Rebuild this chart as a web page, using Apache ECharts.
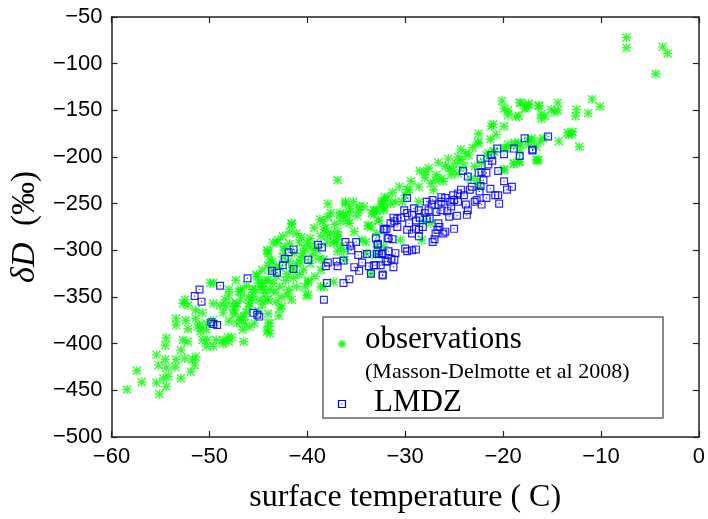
<!DOCTYPE html>
<html>
<head>
<meta charset="utf-8">
<script src="https://cdn.jsdelivr.net/npm/echarts@6/dist/echarts.min.js"></script>
<style>
  html, body { margin: 0; padding: 0; background: #fff; }
  #chart { width: 708px; height: 519px; }
</style>
</head>
<body>
<div id="chart"></div>
<script>
// axis ticks
const xTicks = { min: -60, max: 0, step: 10 };
const yTicks = { min: -500, max: -50, step: 50 };

// observations (Masson-Delmotte et al 2008): [surface temperature, dD]
const observations = [
  [-58.4,-449],[-56.9,-441],[-57.4,-429],[-55.4,-442],[-55.1,-454],[-54.7,-437],[-54.2,-435],[-54.4,-446],
  [-55.4,-412],[-55.2,-423],[-54.5,-417],[-54.4,-426],[-54.5,-402],[-54.4,-394],[-53.4,-417],[-53.5,-425],
  [-52.9,-437],[-52.5,-416],[-52.9,-407],[-52.7,-396],[-52.2,-398],[-51.7,-417],[-51.9,-430],[-51.5,-423],
  [-51.4,-414],[-51.2,-382],[-52.2,-384],[-53.4,-373],[-53.4,-380],[-52.4,-375],[-51.4,-373],[-50.9,-387],
  [-50.7,-396],[-50.2,-396],[-50.3,-403],[-49.6,-403],[-49.3,-396],[-48.6,-396],[-48.1,-393],[-48.6,-400],
  [-48.0,-398],[-52.7,-357],[-52.2,-359],[-51.4,-364],[-50.7,-367],[-50.3,-378],[-51.0,-380],[-50.3,-385],
  [-49.6,-375],[-49.6,-357],[-48.9,-359],[-48.4,-353],[-48.0,-348],[-47.6,-357],[-47.3,-360],[-48.6,-367],
  [-48.0,-376],[-47.5,-369],[-49.6,-335],[-48.0,-342],[-47.3,-332],[-47.0,-344],[-46.5,-398],[-46.4,-371],
  [-46.0,-360],[-45.6,-353],[-45.3,-342],[-45.1,-328],[-44.6,-335],[-44.3,-346],[-44.1,-353],[-44.0,-332],
  [-44.0,-316],[-44.1,-387],[-44.0,-378],[-46.4,-378],[-46.0,-350],[-46.7,-375],[-52.5,-353],[-46.8,-342],
  [-44.0,-303],[-48.3,-360],
  [-46.8,-344],[-47.2,-357],[-47.5,-364],[-46.8,-371],[-47.2,-378],[-45.9,-382],[-45.4,-378],[-45.6,-342],
  [-45.2,-326],[-44.6,-321],[-44.7,-339],[-44.2,-332],[-43.8,-342],[-44.0,-353],[-44.8,-353],[-45.9,-357],
  [-46.2,-366],[-43.8,-378],[-43.5,-335],[-43.1,-328],[-42.8,-339],[-42.6,-350],[-42.8,-362],[-43.1,-317],
  [-43.6,-312],[-44.0,-301],[-43.5,-292],[-43.0,-289],[-42.5,-285],[-42.3,-296],[-41.8,-280],[-41.6,-271],
  [-41.1,-282],[-40.8,-292],[-41.3,-303],[-41.1,-314],[-40.6,-307],[-41.9,-312],[-42.5,-307],[-42.1,-325],
  [-41.4,-330],[-40.8,-326],[-40.4,-321],[-39.9,-334],[-40.2,-339],[-41.1,-339],[-41.9,-342],[-39.9,-348],
  [-40.0,-292],[-39.7,-287],[-39.2,-296],[-39.5,-305],[-38.8,-309],[-38.6,-321],[-39.2,-328],[-39.7,-314],
  [-38.6,-285],[-38.3,-278],[-37.9,-284],[-38.4,-269],[-37.9,-264],[-37.6,-260],[-38.1,-276],[-37.6,-282],
  [-37.3,-291],[-36.9,-289],[-36.6,-296],[-36.3,-301],[-36.9,-301],[-36.7,-262],[-36.6,-269],[-36.1,-262],
  [-36.1,-250],[-35.3,-248],[-35.7,-271],[-35.2,-280],[-34.7,-253],[-34.2,-253],[-34.0,-291],[-33.2,-262],
  [-33.7,-273],[-32.9,-257],[-32.4,-250],[-32.2,-257],[-32.1,-243],[-32.9,-296],[-38.3,-339],[-38.6,-339],
  [-37.3,-334],[-44.0,-385],[-43.8,-389],[-46.6,-385],[-47.7,-393],
  [-36.9,-225],[-41.6,-272],[-38.7,-267],[-36.6,-260],[-35.9,-268],[-36.1,-248],[-35.7,-260],[-34.7,-257],
  [-33.8,-274],[-33.0,-257],[-32.7,-268],[-32.4,-248],[-31.5,-250],[-29.8,-235],[-32.9,-282],[-34.4,-289],
  [-34.0,-303],[-36.9,-285],[-36.2,-310],[-38.3,-310],[-37.3,-292],[-39.7,-296],[-40.4,-303],[-43.8,-310],
  [-44.1,-300],[-43.1,-292],[-49.9,-335],[-41.6,-353],[-40.1,-348],[-39.9,-332],[-42.6,-360],
  [-45.0,-335],[-44.5,-342],[-43.3,-345],[-42.2,-332],[-41.5,-322],[-45.5,-348],[-44.6,-358],[-43.2,-355],
  [-42.0,-347],[-46.2,-338],[-46.8,-352],[-45.0,-365],[-44.0,-368],[-42.9,-370],[-41.5,-318],[-40.7,-313],
  [-42.8,-318],[-43.7,-322],[-42.4,-300],[-41.8,-293],[-40.3,-298],[-39.0,-300],[-38.0,-292],[-37.2,-272],
  [-36.9,-280],[-40.6,-286],[-39.3,-276],[-35.6,-255],[-34.9,-263],[-37.9,-250],
  [-22.5,-175],[-22.5,-185],[-24.6,-200],[-24.2,-203],[-23.8,-196],[-23.5,-198],[-24.8,-207],[-24.0,-210],
  [-25.1,-214],[-24.6,-218],[-25.5,-212],[-25.9,-210],[-25.3,-219],[-26.3,-223],[-26.8,-219],[-26.1,-226],
  [-27.4,-228],[-28.0,-222],[-28.6,-232],[-29.6,-235],[-27.1,-235],[-22.9,-210],[-22.2,-207],[-21.7,-198],
  [-20.9,-194],[-19.9,-190],[-19.5,-187],[-18.8,-185],[-18.2,-187],[-17.4,-182],[-17.1,-180],[-18.9,-207],
  [-18.3,-205],[-16.6,-203],[-19.9,-214],[-22.5,-232],[-31.8,-243],[-32.2,-248],[-31.0,-248],[-32.2,-255],
  [-33.2,-257],[-32.7,-268],[-33.4,-260],[-30.3,-248],[-28.6,-248],[-28.2,-269],[-27.4,-271],[-28.3,-289],
  [-30.5,-289],[-32.2,-296],[-33.0,-305],[-33.5,-275],[-33.5,-325],[-26.9,-225],[-23.3,-223],[-22.6,-225],
  [-28.5,-215],[-27.6,-212],[-26.6,-206],[-25.6,-202],[-29.4,-226],[-30.6,-232],[-31.3,-238],[-24.3,-192],
  [-23.1,-190],[-21.3,-181],[-20.7,-176],[-27.9,-216],[-30.0,-241],
  [-7.4,-72],[-7.4,-83],[-3.7,-82],[-3.2,-89],[-4.4,-111],[-10.9,-138],[-10.1,-146],[-11.3,-153],
  [-12.5,-149],[-12.6,-156],[-14.4,-142],[-14.4,-150],[-14.7,-152],[-15.1,-149],[-16.3,-145],[-16.1,-154],
  [-15.7,-156],[-16.1,-159],[-17.4,-144],[-17.8,-148],[-18.3,-142],[-18.4,-156],[-13.4,-174],[-12.9,-173],
  [-13.0,-176],[-14.3,-183],[-12.2,-189],[-15.9,-180],[-16.2,-183],[-16.6,-189],[-16.5,-204],[-17.1,-182],
  [-17.4,-187],[-18.4,-205],[-18.3,-194],
  [-20.1,-140],[-19.9,-148],[-19.5,-150],[-19.5,-155],[-18.7,-157],[-18.2,-142],[-17.6,-147],[-17.4,-143],
  [-16.4,-145],[-21.2,-167],[-21.0,-165],[-19.9,-167],[-22.6,-184],[-21.5,-196],[-21.0,-194],[-19.7,-191],
  [-18.9,-187],[-18.4,-185],[-16.4,-203],[-13.3,-176],[-19.9,-213],[-18.9,-207]
];

// LMDZ model: [surface temperature, dD]
const lmdz = [
  [-51.5,-349],[-51.0,-342],[-50.8,-355],[-48.9,-338],[-46.1,-330],[-49.8,-377],[-49.6,-379],[-49.2,-380],
  [-45.5,-367],[-44.9,-371],[-45.1,-369],[-43.6,-322],
  [-43.1,-324],[-42.5,-316],[-42.3,-309],[-41.9,-302],[-41.4,-299],[-41.4,-320],[-39.9,-310],[-38.9,-294],
  [-38.5,-297],[-38.0,-335],[-38.3,-353],[-37.9,-313],[-38.1,-317],[-37.0,-312],[-36.9,-317],[-36.3,-311],
  [-36.3,-335],[-35.7,-331],[-36.1,-291],[-35.6,-295],[-35.5,-300],[-35.0,-291],[-34.8,-305],[-35.2,-318],
  [-34.7,-322],[-34.4,-313],[-33.9,-304],[-33.5,-325],[-33.7,-317],[-33.0,-316],[-32.9,-304],[-32.5,-316],
  [-32.3,-327],[-32.8,-293],[-33.0,-287],[-32.3,-303],[-32.1,-278],[-31.8,-312],[-31.8,-287],
  [-17.8,-180],[-17.0,-192],[-18.9,-191],[-19.9,-197],[-20.6,-191],[-21.2,-198],[-21.5,-208],[-21.1,-204],
  [-18.3,-199],[-22.3,-202],[-20.5,-215],[-22.2,-216],[-21.7,-217],[-22.5,-217],[-24.1,-215],[-23.6,-221],
  [-22.0,-225],[-19.9,-226],[-19.1,-232],[-19.6,-235],[-22.3,-231],[-21.3,-234],[-23.2,-232],[-23.4,-235],
  [-22.4,-237],[-21.7,-244],[-20.8,-241],[-20.5,-241],[-20.4,-250],[-22.7,-246],[-22.9,-248],[-22.2,-251],
  [-23.8,-251],[-23.6,-257],[-23.7,-262],[-24.7,-263],[-24.0,-241],[-24.6,-239],[-24.3,-235],[-25.1,-241],
  [-25.0,-246],[-24.6,-248],[-25.4,-248],[-25.3,-253],[-25.7,-258],[-26.3,-248],[-26.3,-243],[-25.9,-244],
  [-26.6,-251],[-26.3,-257],[-26.8,-259],[-27.2,-246],[-27.3,-251],[-27.8,-248],[-27.6,-257],[-28.0,-260],
  [-28.6,-257],[-28.5,-265],[-29.1,-255],[-29.3,-262],[-28.9,-268],[-29.8,-260],[-29.8,-244],[-28.2,-275],
  [-27.5,-266],[-27.8,-266],[-26.6,-271],[-26.7,-278],[-26.5,-275],[-26.9,-282],[-26.1,-282],[-25.9,-280],
  [-27.0,-288],[-27.2,-291],[-25.0,-277],[-25.5,-264],[-28.6,-285],[-28.6,-278],[-28.9,-277],[-29.6,-271],
  [-29.8,-278],[-29.3,-282],[-30.4,-265],[-30.8,-275],[-31.2,-265],[-31.1,-269],[-30.1,-257],[-32.2,-277],
  [-31.9,-277],[-31.7,-287],[-32.8,-294],[-31.3,-288],[-31.1,-310],[-31.4,-309],[-31.7,-301],[-32.4,-304],
  [-32.7,-304],[-32.0,-312],[-33.2,-316],[-31.2,-318],[-32.3,-326],[-30.0,-298],[-29.3,-300],[-28.9,-299],
  [-29.8,-301],
  [-15.4,-178],[-17.0,-193],[-31.5,-271],[-30.8,-266],[-31.0,-303]
];

const seriesNames = ['observations', 'LMDZ'];
const legendNote = '(Masson-Delmotte et al 2008)';

// marker shapes: matlab-like asterisk and open square with a centre dot
const starPath = 'path://M0 4.2H10V5.8H0Z M4.2 0H5.8V10H4.2Z M1.1 0L10 8.9L8.9 10L0 1.1Z M8.9 0L10 1.1L1.1 10L0 8.9Z';
const squarePath = 'path://M0 0H10V10H0Z M1.5 1.5V8.5H8.5V1.5Z M4.3 4.3H5.7V5.7H4.3Z';

const minus = v => String(v).replace('-', '\u2212');
const serif = 'Liberation Serif';
const lineCol = '#222';

// legend icons built from plain graphic elements
function starIcon(cx, cy, r) {
  const d = r * 0.72;
  const seg = (x1, y1, x2, y2) => ({
    type: 'line', z: 11, shape: { x1, y1, x2, y2 },
    style: { stroke: '#00ff00', lineWidth: 1.4 }
  });
  return [
    seg(cx - r, cy, cx + r, cy), seg(cx, cy - r, cx, cy + r),
    seg(cx - d, cy - d, cx + d, cy + d), seg(cx - d, cy + d, cx + d, cy - d)
  ];
}
function squareIcon(cx, cy, r) {
  return [
    { type: 'rect', z: 11, shape: { x: cx - r, y: cy - r, width: 2 * r, height: 2 * r },
      style: { fill: 'none', stroke: '#0000ff', lineWidth: 1.2 } },
    { type: 'rect', z: 11, shape: { x: cx - 0.6, y: cy - 0.6, width: 1.2, height: 1.2 },
      style: { fill: '#0000ff' } }
  ];
}

const chart = echarts.init(document.getElementById('chart'));

const axisBase = {
  type: 'value',
  splitLine: { show: false },
  axisLine: { show: true, onZero: false, lineStyle: { color: lineCol, width: 1.5 } },
  axisTick: { show: true, inside: true, length: 6, lineStyle: { color: lineCol, width: 1.2 } }
};

chart.setOption({
  animation: false,
  grid: { left: 110, right: 6, top: 17, bottom: 82 },
  xAxis: [
    Object.assign({}, axisBase, {
      min: xTicks.min, max: xTicks.max, interval: xTicks.step, position: 'bottom',
      axisLabel: { formatter: minus, color: '#000', fontSize: 22, fontFamily: 'Liberation Sans', margin: 9 },
      name: 'surface temperature ( C)', nameLocation: 'middle', nameGap: 45,
      nameTextStyle: { fontFamily: serif, fontSize: 32, color: '#000' }
    }),
    Object.assign({}, axisBase, {
      min: xTicks.min, max: xTicks.max, interval: xTicks.step, position: 'top',
      axisLabel: { show: false }
    })
  ],
  yAxis: [
    Object.assign({}, axisBase, {
      min: yTicks.min, max: yTicks.max, interval: yTicks.step, position: 'left',
      axisLabel: { formatter: minus, color: '#000', fontSize: 22, fontFamily: 'Liberation Sans', margin: 9 },
      name: '{i|δD}  (‰)', nameLocation: 'middle', nameGap: 60, nameRotate: 90,
      nameTextStyle: {
        fontFamily: serif, fontSize: 33, color: '#000',
        rich: { i: { fontFamily: serif, fontStyle: 'italic', fontSize: 34, color: '#000' } }
      }
    }),
    Object.assign({}, axisBase, {
      min: yTicks.min, max: yTicks.max, interval: yTicks.step, position: 'right',
      axisLabel: { show: false }
    })
  ],
  series: [
    {
      name: seriesNames[0], type: 'scatter', data: observations,
      symbol: starPath, symbolSize: 9,
      itemStyle: { color: '#00ff00' }
    },
    {
      name: seriesNames[1], type: 'scatter', data: lmdz,
      symbol: squarePath, symbolSize: 8,
      itemStyle: { color: '#0000ff', opacity: 0.85 }
    }
  ],
  graphic: [
    { type: 'rect', z: 10,
      shape: { x: 323, y: 317, width: 340, height: 101 },
      style: { fill: '#fff', stroke: '#666', lineWidth: 1.5 } },
    ...starIcon(342, 344, 4),
    { type: 'text', z: 11, x: 365, y: 324,
      style: { text: seriesNames[0], font: '31px "Liberation Serif"', fill: '#000' } },
    { type: 'text', z: 11, x: 365, y: 361,
      style: { text: legendNote, font: '22px "Liberation Serif"', fill: '#000' } },
    ...squareIcon(342, 404, 3.5),
    { type: 'text', z: 11, x: 374, y: 387,
      style: { text: seriesNames[1], font: '31px "Liberation Serif"', fill: '#000' } }
  ]
});
</script>
</body>
</html>
